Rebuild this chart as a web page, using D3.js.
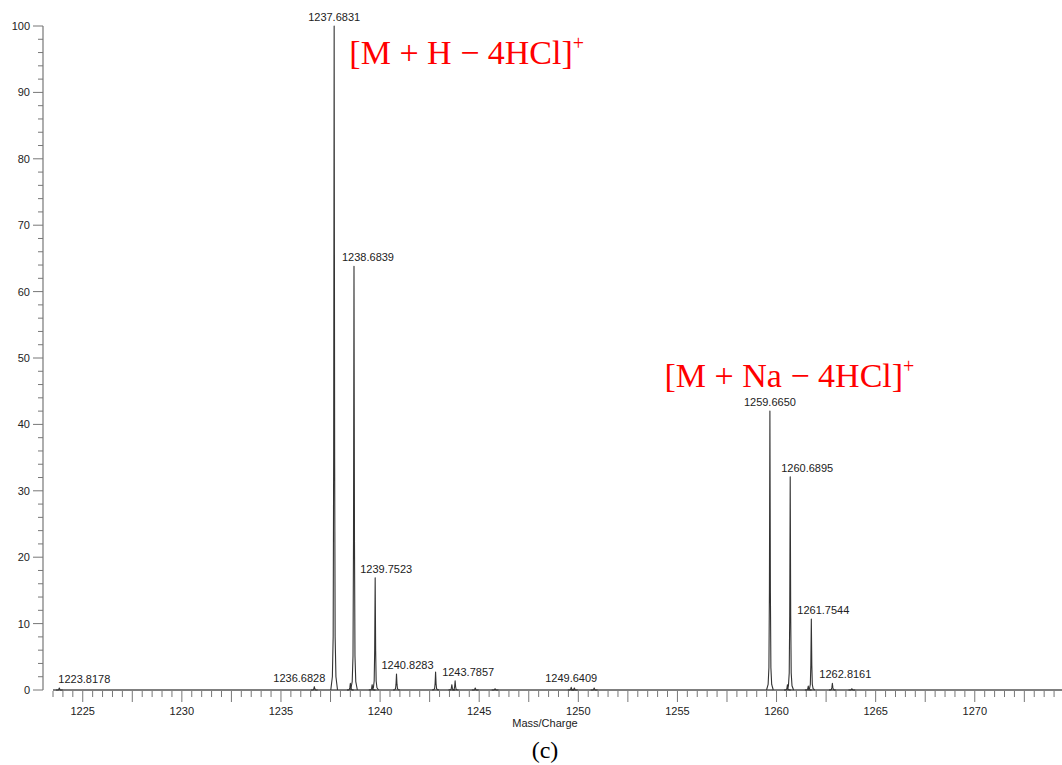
<!DOCTYPE html>
<html>
<head>
<meta charset="utf-8">
<script src="https://cdn.jsdelivr.net/npm/d3@7"></script>
<style>
  html, body { margin: 0; padding: 0; background: #fff; }
  svg { display: block; }
</style>
</head>
<body>
<svg id="chart" width="1062" height="765"></svg>
<script>
// ---- data ----
const peakMz = [1223.8178, 1236.6828, 1237.6831, 1238.50, 1238.6839, 1239.60, 1239.7523,
  1240.8283, 1242.80, 1243.62, 1243.7857, 1244.80, 1245.80, 1249.6409, 1249.80, 1250.80,
  1259.6650, 1260.55, 1260.6895, 1261.60, 1261.7544, 1262.8161, 1263.80];
const peakIntensity = [0.3, 0.5, 100, 1.0, 63.8, 0.8, 16.9,
  2.4, 2.7, 0.8, 1.4, 0.3, 0.2, 0.4, 0.3, 0.3,
  42.0, 0.8, 32.1, 0.6, 10.7, 1.0, 0.2];

const labelMz = [1223.8178, 1236.6828, 1237.6831, 1238.6839, 1239.7523, 1240.8283,
  1243.7857, 1249.6409, 1259.6650, 1260.6895, 1261.7544, 1262.8161];
const labelIntensity = [0.3, 0.5, 100, 63.8, 16.9, 2.4, 1.4, 0.4, 42.0, 32.1, 10.7, 1.0];
const labelText = ["1223.8178", "1236.6828", "1237.6831", "1238.6839", "1239.7523", "1240.8283",
  "1243.7857", "1249.6409", "1259.6650", "1260.6895", "1261.7544", "1262.8161"];
const labelShift = [25, -15, 0, 14, 11, 11, 13, 0, 0, 17, 12, 13];

const yTicks = [0, 10, 20, 30, 40, 50, 60, 70, 80, 90, 100];
const xTicks = [1225, 1230, 1235, 1240, 1245, 1250, 1255, 1260, 1265, 1270];

const annotations = [
  { text: "[M + H \u2212 4HCl]", sup: "+", mz: 1238.45, y: 94.3 },
  { text: "[M + Na \u2212 4HCl]", sup: "+", mz: 1254.35, y: 45.7 }
];

// ---- layout ----
const svg = d3.select("#chart");
const x = d3.scaleLinear().domain([1223.5, 1274.4]).range([53, 1062]);
const y = d3.scaleLinear().domain([0, 100]).range([690, 26]);
const axisColor = "#777";
const textColor = "#222";
const font = "'Liberation Sans', Arial, Helvetica, sans-serif";

// y axis
const yAxis = svg.append("g").attr("transform", "translate(43,0)");
yAxis.append("line").attr("x1", 0).attr("x2", 0).attr("y1", y(100)).attr("y2", y(0))
  .attr("stroke", axisColor).attr("stroke-width", 1.2);
d3.range(0, 101, 2).forEach(v => {
  const major = v % 10 === 0;
  yAxis.append("line").attr("x1", major ? -10 : -5).attr("x2", 0)
    .attr("y1", y(v)).attr("y2", y(v)).attr("stroke", axisColor).attr("stroke-width", 1);
});
yAxis.selectAll("text.yl").data(yTicks).join("text")
  .attr("x", -13).attr("y", d => y(d) + 4)
  .attr("text-anchor", "end").attr("font-family", font).attr("font-size", 11)
  .attr("fill", textColor).text(d => d);

// x axis ticks
const xAxis = svg.append("g").attr("transform", "translate(0,691)");
d3.range(1223.5, 1274.5, 0.5).forEach(v => {
  const long = Math.abs((v * 2) % 5) < 1e-6;
  xAxis.append("line").attr("x1", x(v)).attr("x2", x(v))
    .attr("y1", 0).attr("y2", long ? 11 : 6)
    .attr("stroke", axisColor).attr("stroke-width", 1);
});
xAxis.selectAll("text.xl").data(xTicks).join("text")
  .attr("x", d => x(d)).attr("y", 24)
  .attr("text-anchor", "middle").attr("font-family", font).attr("font-size", 11)
  .attr("fill", textColor).text(d => d);
svg.append("text").attr("x", 545).attr("y", 727).attr("text-anchor", "middle")
  .attr("font-family", font).attr("font-size", 11).attr("fill", textColor).text("Mass/Charge");

// baseline
svg.append("line").attr("x1", x(1223.5)).attr("x2", x(1274.4))
  .attr("y1", y(0)).attr("y2", y(0)).attr("stroke", "#555").attr("stroke-width", 1.4);

// peaks
const shape = [[-0.17, 0], [-0.09, 0.02], [-0.05, 0.08], [-0.025, 0.35], [0, 1],
  [0.025, 0.35], [0.05, 0.08], [0.09, 0.02], [0.17, 0]];
const line = d3.line().x(d => x(d[0])).y(d => y(d[1]));
svg.append("g").selectAll("path").data(peakMz.map((m, i) => [m, peakIntensity[i]])).join("path")
  .attr("d", d => line(shape.map(s => [d[0] + s[0], d[1] * s[1]])))
  .attr("fill", "none").attr("stroke", "#333").attr("stroke-width", 1.1)
  .attr("stroke-linejoin", "round");

// peak labels
svg.append("g").selectAll("text").data(labelMz).join("text")
  .attr("x", (d, i) => x(d) + labelShift[i])
  .attr("y", (d, i) => y(labelIntensity[i]) - 5)
  .attr("text-anchor", "middle").attr("font-family", font).attr("font-size", 11)
  .attr("fill", textColor).text((d, i) => labelText[i]);

// red annotations
annotations.forEach(a => {
  const t = svg.append("text").attr("x", x(a.mz)).attr("y", y(a.y))
    .attr("font-family", "'Liberation Serif', 'Times New Roman', serif")
    .attr("font-size", 34).attr("fill", "#ff0000");
  t.append("tspan").text(a.text);
  t.append("tspan").attr("dy", -14).attr("font-size", 20).text(a.sup);
});

// caption
svg.append("text").attr("x", 545).attr("y", 758).attr("text-anchor", "middle")
  .attr("font-family", "'Liberation Serif', 'Times New Roman', serif")
  .attr("font-size", 24).attr("fill", "#000").text("(c)");
</script>
</body>
</html>
